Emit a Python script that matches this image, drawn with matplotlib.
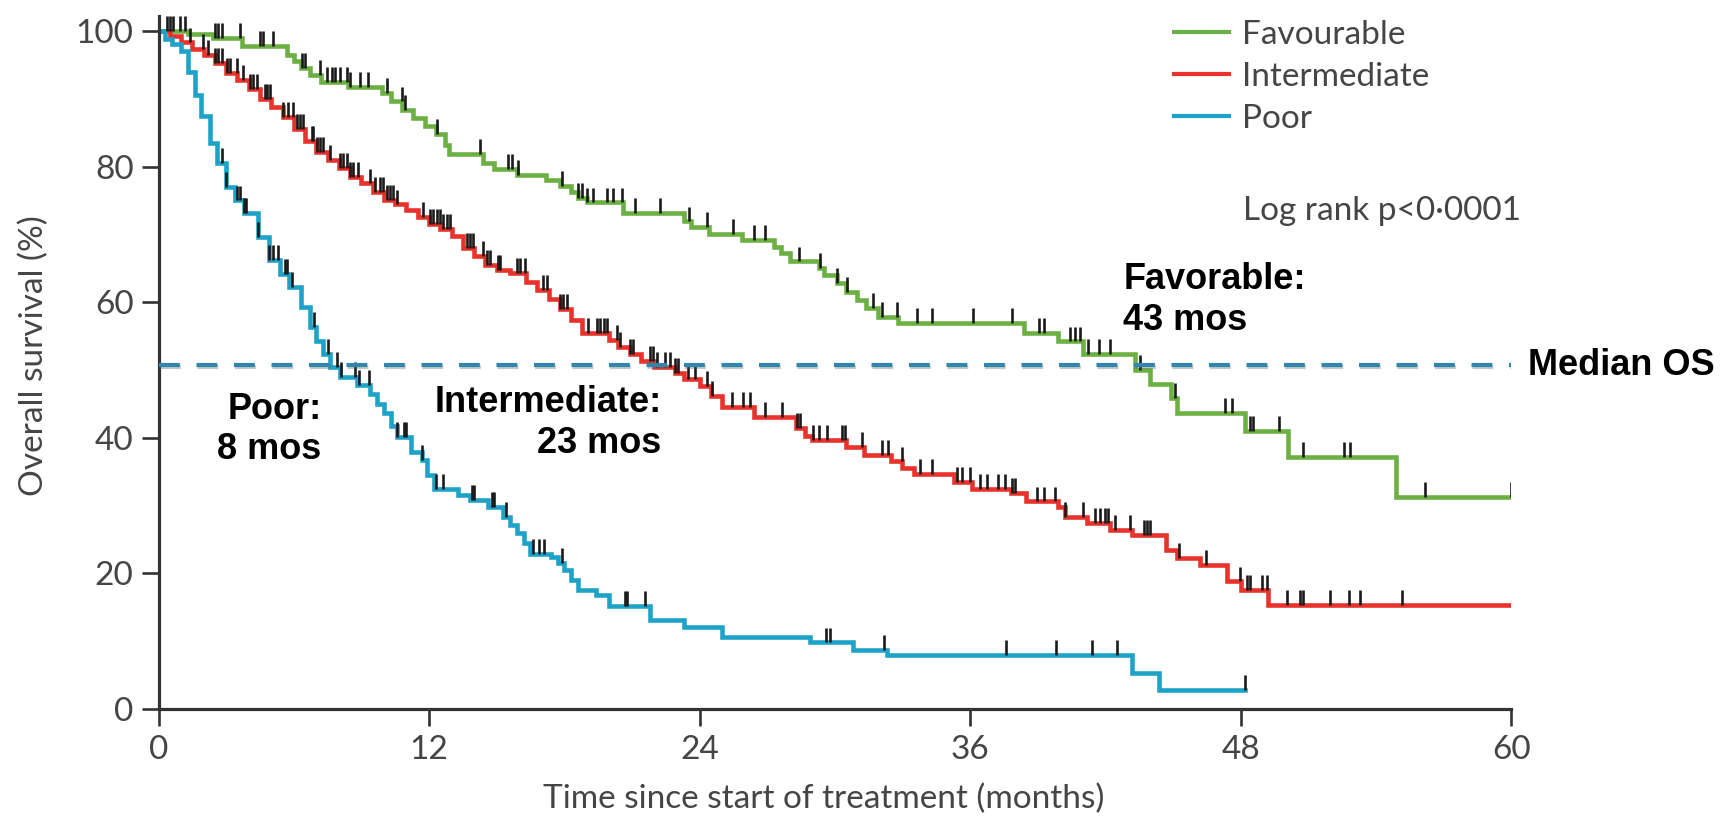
import numpy as np
import matplotlib
matplotlib.use('Agg')
import matplotlib.pyplot as plt
import matplotlib.patheffects as pe

# Kaplan-Meier steps: month of each drop and survival (%) after it
fav_t = [0, 1.3, 2.4, 3.7, 5.7, 6.0, 6.3, 6.7, 7.2, 8.4, 9.9, 10.3, 10.8, 11.3, 11.8,
         12.3, 12.7, 12.9, 14.4, 14.9, 15.9, 17.2, 17.8, 18.3, 18.6, 19.0, 20.6, 23.3,
         23.6, 24.4, 25.9, 27.3, 27.6, 28.0, 29.3, 29.5, 30.1, 30.5, 31.0, 31.4, 31.9,
         32.8, 38.4, 39.9, 41.0, 43.3, 44.0, 44.9, 45.2, 48.2, 50.1, 54.9]
fav_s = [100, 99.5, 98.9, 97.8, 96.5, 95.5, 94.5, 93.5, 92.5, 91.8, 90.8, 89.6, 88.3, 87.2, 86.0,
         84.8, 83.2, 81.9, 80.5, 79.7, 78.7, 78.0, 77.2, 76.2, 75.3, 74.7, 73.1, 71.9,
         71.1, 70.1, 69.2, 68.2, 67.2, 66.0, 65.0, 64.0, 62.8, 61.5, 60.3, 59.1, 57.8,
         56.9, 55.4, 54.2, 52.4, 50.0, 47.9, 45.9, 43.6, 41.0, 37.2, 31.2]

int_t = [0, 0.5, 1.0, 1.5, 2.0, 2.5, 3.0, 3.5, 4.0, 4.5, 5.0, 5.5, 6.0, 6.5, 7.0, 7.5, 8.0,
         8.5, 9.0, 9.5, 10.0, 10.5, 11.0, 11.5, 12.0, 12.5, 13.0, 13.5, 14.0, 14.5, 15.0,
         15.6, 16.3, 16.8, 17.3, 17.8, 18.3, 18.8, 20.0, 20.4, 20.9, 21.4, 22.0, 22.9, 23.3,
         24.0, 24.5, 25.0, 26.4, 28.3, 28.7, 29.0, 30.5, 31.3, 32.5, 33.0, 33.5, 35.3, 36.1,
         37.8, 38.5, 39.9, 40.2, 41.2, 42.2, 43.2, 44.7, 45.2, 46.2, 47.4, 48.0, 49.2]
int_s = [100, 99.2, 98.3, 97.4, 96.5, 95.3, 93.8, 92.8, 91.5, 90.0, 88.8, 87.3, 85.5, 83.8, 82.2,
         81.0, 79.8, 78.5, 77.5, 76.3, 75.1, 74.4, 73.6, 72.6, 71.5, 70.8, 69.8, 68.0, 66.8,
         65.5, 64.8, 64.3, 63.0, 61.8, 60.5, 59.0, 57.3, 55.4, 54.4, 53.4, 52.4, 51.3, 50.5,
         49.6, 48.6, 47.6, 46.2, 44.6, 43.0, 41.5, 40.2, 39.7, 38.7, 37.4, 36.5, 35.5, 34.7,
         33.5, 32.5, 31.8, 30.6, 29.8, 28.3, 27.4, 26.4, 25.6, 23.4, 22.2, 21.2, 18.8, 17.5, 15.3]

poor_t = [0, 0.3, 0.6, 1.0, 1.3, 1.6, 1.9, 2.3, 2.6, 3.0, 3.4, 3.8, 4.4, 4.9, 5.4, 5.8, 6.3,
          6.7, 7.0, 7.3, 7.6, 8.05, 8.8, 9.4, 9.7, 10.0, 10.3, 10.6, 11.2, 11.7, 11.9, 12.2,
          13.3, 13.8, 14.6, 15.3, 15.6, 15.9, 16.2, 16.5, 17.4, 17.7, 18.0, 18.3, 18.6, 19.4,
          20.0, 21.8, 23.3, 25.0, 28.9, 30.8, 32.3, 43.2, 44.4]
poor_s = [100, 98.8, 98.0, 97.0, 94.0, 90.5, 87.5, 83.4, 80.5, 77.0, 75.0, 73.1, 69.6, 66.2,
          64.2, 62.3, 59.3, 56.4, 54.3, 52.4, 50.5, 49.0, 47.8, 46.5, 45.0, 43.6, 41.8, 40.1,
          37.9, 36.7, 34.5, 32.5, 31.6, 30.8, 29.8, 28.3, 27.2, 25.9, 24.4, 22.9, 22.4, 21.5,
          20.5, 19.0, 17.5, 16.8, 15.2, 13.1, 12.1, 10.6, 9.8, 8.7, 7.9, 5.3, 2.8]

# censored patients (months)
fav_cens = [0.36, 0.51, 0.66, 0.95, 1.18, 2.51, 2.65, 2.80, 3.62, 4.50, 4.65, 5.09, 6.35, 6.50,
            7.17, 7.46, 7.68, 7.83, 8.05, 8.35, 8.50, 8.94, 9.31, 10.12, 10.79, 10.94, 12.34,
            14.26, 15.52, 15.67, 15.96, 17.89, 18.63, 18.78, 19.00, 19.29, 19.88, 20.18, 20.55,
            21.14, 22.25, 23.55, 24.32, 25.50, 26.42, 26.91, 28.43, 29.35, 30.12, 30.53, 31.71,
            32.08, 32.75, 33.63, 34.33, 36.12, 37.85, 39.08, 39.29, 40.44, 40.66, 40.88, 41.25,
            41.70, 42.21, 43.55, 45.10, 47.32, 47.61, 48.43, 48.54, 49.71, 50.75, 52.58, 52.86,
            56.19, 60.0]
int_cens = [1.40, 1.99, 2.21, 2.51, 2.65, 2.80, 3.02, 3.17, 3.47, 3.76, 4.06, 4.21, 4.36, 4.73,
            4.80, 4.95, 5.54, 5.76, 5.98, 6.13, 6.28, 6.43, 6.80, 6.87, 7.02, 7.17, 7.31, 7.61,
            8.05, 8.20, 8.35, 8.50, 8.64, 8.87, 9.38, 9.61, 9.83, 9.98, 10.12, 10.27, 10.42,
            10.57, 11.75, 12.05, 12.19, 12.34, 12.49, 12.64, 12.78, 12.93, 13.67, 13.82, 13.97,
            14.41, 14.56, 14.71, 15.08, 15.15, 15.89, 16.04, 16.26, 17.07, 17.22, 17.81, 17.96,
            18.11, 19.07, 19.44, 19.59, 19.74, 19.89, 20.33, 20.47, 20.92, 21.07, 21.81, 21.95,
            22.10, 22.47, 22.69, 22.91, 23.06, 23.51, 23.80, 24.32, 24.54, 25.43, 25.95, 26.24,
            26.91, 27.65, 28.31, 28.46, 29.05, 29.28, 29.64, 30.31, 30.46, 31.19, 32.08, 32.38,
            32.97, 33.78, 34.30, 35.41, 35.63, 36.00, 36.45, 36.74, 37.26, 37.56, 37.85, 38.00,
            38.96, 39.26, 39.77, 40.22, 41.03, 41.55, 41.77, 41.99, 42.14, 42.44, 43.10, 43.70,
            43.84, 43.99, 45.25, 46.46, 47.99, 48.28, 48.43, 48.95, 49.17, 50.05, 50.65, 50.79,
            51.98, 52.83, 53.28, 55.15]
poor_cens = [2.8, 3.0, 3.5, 3.6, 3.8, 3.9, 4.4, 4.9, 5.1, 5.3, 5.6, 5.7, 5.9, 6.9, 7.5, 7.9,
             8.1, 8.7, 8.9, 9.35, 10.6, 10.9, 11.0, 11.7, 12.3, 12.6, 13.9, 14.0, 14.8, 14.9,
             15.4, 16.6, 16.9, 17.1, 17.9, 20.7, 20.8, 21.6, 29.6, 29.8, 32.2, 37.6, 39.8, 41.4,
             42.5, 48.2]

groups = ['Favourable', 'Intermediate', 'Poor']
follow_up = [60, 60, 48.2]
colors = ['#6cb043', '#e8322b', '#1ea2c8']
median_os = 50.7

plt.rcParams['font.family'] = 'Lato'
text_gray = '#454545'
axis_col = '#333333'

fig = plt.figure(figsize=(17.23, 8.21), dpi=100)
ax = fig.add_axes([0.0920, 0.1365, 0.7850, 0.8440])

curves = [(fav_t, fav_s, fav_cens), (int_t, int_s, int_cens), (poor_t, poor_s, poor_cens)]
for (t, s, cens), name, end, col in zip(curves, groups, follow_up, colors):
    ax.step(t + [end], s + [s[-1]], where='post', color=col, lw=3.3,
            label=name, solid_joinstyle='miter')
    # censor marks sit on the curve and point up
    idx = np.searchsorted(t, cens, side='right') - 1
    y = np.array(s)[idx]
    ax.vlines(cens, y, y + 2.2, color='#1a1a1a', lw=1.9, zorder=3)

# median OS reference line
ax.plot([0, 60], [median_os, median_os], color='#2f87ae', lw=3.0,
        linestyle=(0, (5.0, 4.0)), zorder=4, solid_capstyle='butt',
        path_effects=[pe.SimpleLineShadow(offset=(0.8, -1.5), shadow_color='#606060', alpha=0.35),
                      pe.Normal()])

ax.set_xlim(0, 60)
ax.set_ylim(0, 102.2)
ax.set_xticks([0, 12, 24, 36, 48, 60])
ax.set_yticks([0, 20, 40, 60, 80, 100])
for sp in ['top', 'right']:
    ax.spines[sp].set_visible(False)
for sp in ['left', 'bottom']:
    ax.spines[sp].set_linewidth(2.3)
    ax.spines[sp].set_color(axis_col)
ax.tick_params(direction='out', length=12, width=1.9, color=axis_col,
               labelsize=24, labelcolor=text_gray)
ax.tick_params(axis='x', pad=7)
ax.tick_params(axis='y', pad=6)

ax.set_xlabel('Time since start of treatment (months)', fontsize=24, color=text_gray)
ax.xaxis.set_label_coords(0.492, -0.108)
ax.set_ylabel('Overall survival (%)', fontsize=24, color=text_gray)
ax.yaxis.set_label_coords(-0.081, 0.51)

leg = ax.legend(loc='upper left', bbox_to_anchor=(1174 / 1723, 1 - 20 / 821),
                bbox_transform=fig.transFigure, frameon=False, fontsize=24,
                handlelength=1.65, handletextpad=0.4, labelspacing=0.36,
                borderpad=0, borderaxespad=0)
for txt in leg.get_texts():
    txt.set_color(text_gray)
for ln in leg.get_lines():
    ln.set_linewidth(3.0)

ax.text(48.13, 72.1, 'Log rank p<0\u00b70001', fontsize=24, color=text_gray,
        va='baseline', ha='left')

bold = dict(family='Liberation Sans', weight='bold', fontsize=26, color='black', clip_on=False)
ax.text(7.24, 41.2, 'Poor:\n8 mos', ha='right', va='center', multialignment='right', **bold)
ax.text(22.32, 42.2, 'Intermediate:\n23 mos', ha='right', va='center', multialignment='right', **bold)
ax.text(42.8, 60.3, 'Favorable:\n43 mos', ha='left', va='center', multialignment='left', **bold)
ax.text(60.76, median_os, 'Median OS', ha='left', va='center', **bold)

fig.savefig('out.png', dpi=100, facecolor='white')
